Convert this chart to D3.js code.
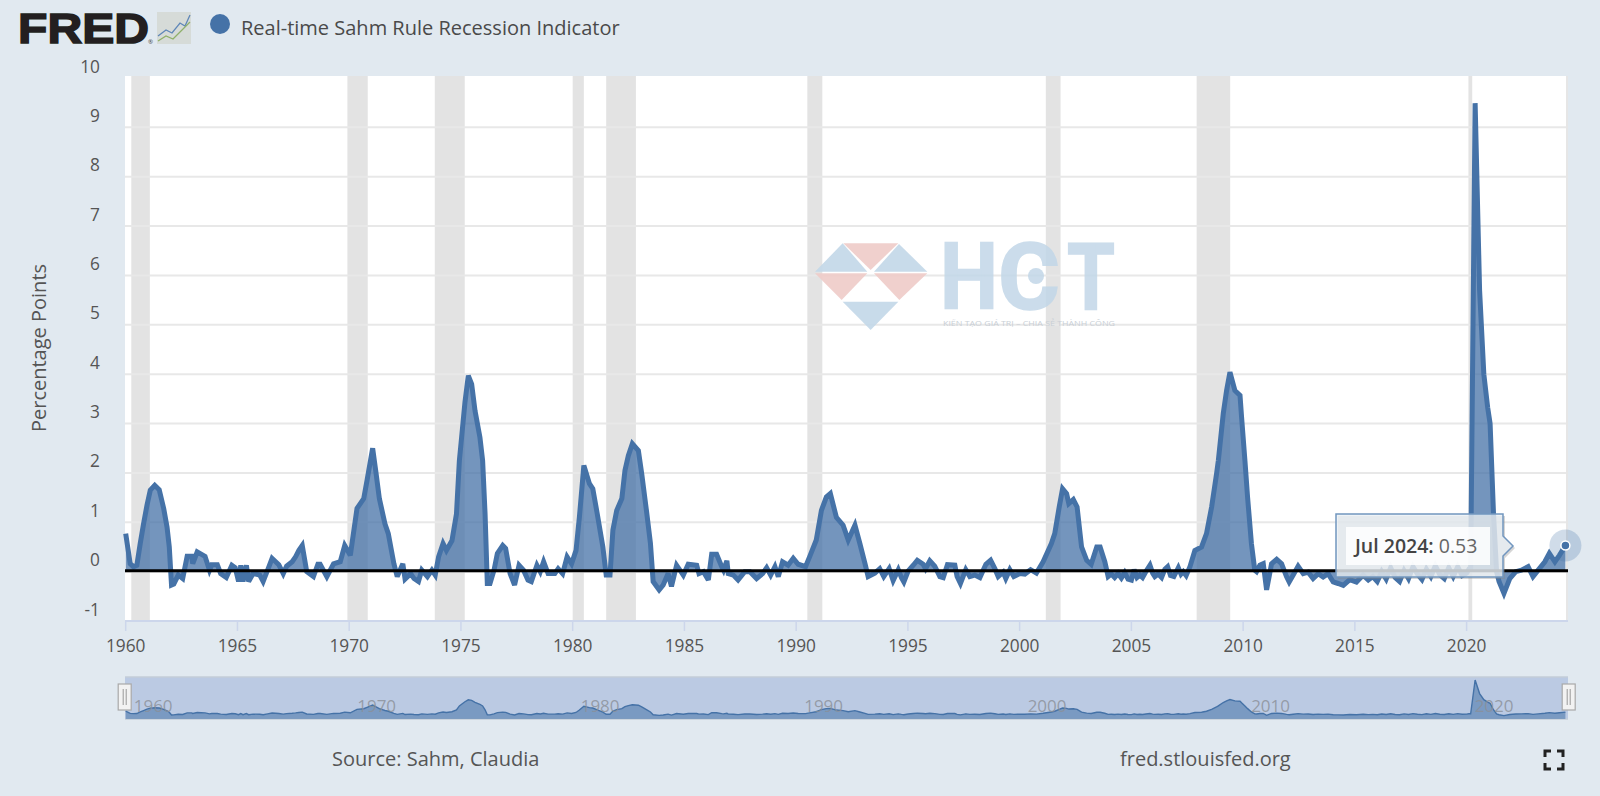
<!DOCTYPE html>
<html><head><meta charset="utf-8">
<script src="https://cdnjs.cloudflare.com/ajax/libs/d3/7.8.5/d3.min.js"></script>
<style>
html,body{margin:0;padding:0;background:#e1e9f0;overflow:hidden}
svg{display:block}
text{font-family:"Open Sans",sans-serif}
</style></head><body>
<svg id="c" width="1600" height="796"></svg>
<script>
const seriesName="Real-time Sahm Rule Recession Indicator";
const yTitle="Percentage Points";
const yTicks=[-1,0,1,2,3,4,5,6,7,8,9,10];
const xTicks=[1960,1965,1970,1975,1980,1985,1990,1995,2000,2005,2010,2015,2020];
const navTicks=[1960,1970,1980,1990,2000,2010,2020];
const recessionStarts=[1960.25,1969.92,1973.83,1980.0,1981.5,1990.5,2001.17,2007.92,2020.08];
const recessionEnds=[1961.08,1970.83,1975.17,1980.5,1982.83,1991.17,2001.83,2009.42,2020.25];
const sahmDates=[
1960.00,1960.20,1960.35,1960.50,1960.65,1960.80,1960.95,1961.10,1961.30,1961.50,
1961.70,1961.85,1961.95,1962.05,1962.15,1962.35,1962.55,1962.75,1962.95,1963.00,
1963.20,1963.55,1963.75,1963.85,1964.10,1964.25,1964.50,1964.75,1964.90,1965.05,
1965.15,1965.25,1965.40,1965.50,1965.70,1966.00,1966.15,1966.35,1966.55,1966.85,
1967.05,1967.20,1967.45,1967.60,1967.75,1967.90,1968.10,1968.40,1968.60,1968.70,
1969.00,1969.30,1969.60,1969.80,1970.05,1970.35,1970.65,1970.80,1971.05,1971.20,
1971.35,1971.60,1971.75,1972.00,1972.15,1972.40,1972.50,1972.75,1972.90,1973.10,
1973.25,1973.50,1973.70,1973.85,1974.00,1974.20,1974.35,1974.60,1974.80,1974.93,
1975.03,1975.18,1975.33,1975.48,1975.63,1975.85,1975.97,1976.08,1976.18,1976.30,
1976.48,1976.63,1976.87,1977.00,1977.20,1977.40,1977.60,1977.80,1978.00,1978.15,
1978.40,1978.55,1978.70,1978.90,1979.20,1979.35,1979.55,1979.75,1979.95,1980.15,
1980.30,1980.50,1980.75,1980.90,1981.10,1981.35,1981.50,1981.67,1981.80,1981.97,
1982.20,1982.34,1982.49,1982.67,1982.94,1983.09,1983.30,1983.48,1983.60,1983.87,
1984.05,1984.27,1984.42,1984.65,1984.95,1985.17,1985.55,1985.65,1985.85,1986.07,
1986.22,1986.44,1986.67,1986.75,1986.90,1986.96,1987.19,1987.40,1987.70,1987.93,
1988.23,1988.50,1988.68,1988.86,1989.05,1989.20,1989.39,1989.64,1989.87,1990.09,
1990.42,1990.60,1990.90,1991.13,1991.35,1991.53,1991.80,1992.10,1992.33,1992.63,
1992.85,1993.08,
2001.05,2001.42,2001.57,
2001.77,2001.92,2002.10,2002.20,2002.40,2002.57,2002.77,2003.00,2003.20,2003.45,
2003.60,2003.81,2003.96,
2007.84,2008.14,2008.36,
2008.59,2008.81,2008.89,2009.11,2009.26,2009.41,2009.63,2009.86,2009.93,2010.08,
2010.20,2010.37,2010.52,2010.60,2010.75,2010.90,2011.05,2011.27,2011.50,2011.72,
2020.18,2020.38,2020.58,2020.77,2020.94,
2021.05,2021.20,2021.34,2021.45,2021.67,2021.93,2022.20,2022.45,2022.75,2022.97,
2023.20,2023.50,2023.70,2023.95,2024.15,2024.42];
const sahmValues=[
0.77,0.16,0.10,0.13,0.57,0.97,1.34,1.65,1.75,1.66,
1.28,0.90,0.50,-0.27,-0.25,-0.07,-0.14,0.31,0.31,0.16,
0.40,0.31,0.03,0.14,0.14,-0.04,-0.12,0.13,0.08,-0.20,
0.13,-0.20,0.13,-0.20,-0.04,-0.07,-0.20,0.03,0.27,0.14,
-0.04,0.11,0.20,0.30,0.43,0.53,0.00,-0.10,0.15,0.15,
-0.10,0.16,0.20,0.53,0.33,1.28,1.48,1.85,2.50,2.00,
1.48,0.97,0.77,0.16,-0.10,0.16,-0.15,-0.04,-0.14,-0.20,
0.03,-0.10,0.03,-0.07,0.30,0.57,0.43,0.63,1.17,2.25,
2.72,3.43,3.97,3.80,3.26,2.72,2.25,1.17,-0.24,-0.24,
0.03,0.37,0.53,0.47,-0.04,-0.27,0.13,0.03,-0.17,-0.20,
0.13,0.00,0.20,-0.04,-0.04,0.06,-0.04,0.30,0.16,0.43,
1.10,2.15,1.78,1.68,1.17,0.50,-0.07,-0.07,0.84,1.24,
1.48,2.05,2.35,2.59,2.45,1.98,1.24,0.57,-0.20,-0.37,
-0.27,-0.04,-0.30,0.13,-0.07,0.15,0.13,-0.04,0.00,-0.17,
0.35,0.35,0.10,0.03,0.22,-0.04,-0.07,-0.17,0.00,0.00,
-0.14,-0.04,0.08,-0.07,0.10,-0.10,0.20,0.13,0.27,0.15,
0.10,0.30,0.64,1.24,1.51,1.58,1.10,0.94,0.64,0.94,
0.57,0.16,
0.20,0.57,0.77,
1.31,1.68,1.58,1.38,1.46,1.31,0.50,0.23,0.15,0.50,
0.50,0.20,-0.10,
0.43,0.50,0.77,
1.31,1.98,2.25,3.20,3.67,4.04,3.67,3.57,3.13,2.25,
1.50,0.57,0.03,0.00,0.13,0.16,-0.37,0.16,0.25,0.16,
0.05,9.49,5.70,4.00,3.33,
3.00,1.20,0.00,-0.20,-0.44,-0.14,0.00,0.03,0.10,-0.10,
0.03,0.20,0.37,0.20,0.33,0.53];
const quietDates=[
1993.22,1993.52,1993.74,1993.92,1994.16,1994.34,1994.57,1994.71,1994.82,1995.01,
1995.24,1995.42,1995.68,1995.79,1995.98,1996.20,1996.43,1996.58,1996.77,1997.10,
1997.20,1997.35,1997.59,1997.77,1997.99,1998.22,1998.49,1998.70,1998.89,1999.04,
1999.26,1999.38,1999.56,1999.74,2000.01,2000.23,2000.49,2000.75,
2004.10,2004.25,2004.40,2004.55,2004.70,2004.85,2005.00,2005.12,2005.25,2005.38,
2005.50,2005.65,2005.83,2005.95,2006.05,2006.20,2006.35,2006.50,2006.62,2006.75,
2006.90,2007.10,2007.22,2007.32,2007.45,2007.62,
2011.94,2012.06,2012.24,2012.46,2012.69,2012.91,2013.13,2013.36,2013.58,2013.80,
2014.03,2014.25,2014.48,2014.77,2015.07,2015.37,2015.60,2015.80,2016.00,2016.20,
2016.40,2016.60,2016.80,2017.00,2017.20,2017.40,2017.60,2017.80,2018.00,2018.20,
2018.40,2018.60,2018.80,2019.00,2019.20,2019.40,2019.60,2019.80,2020.00,2020.10];
const quietValues=[
-0.10,-0.03,0.06,-0.10,0.06,-0.18,0.04,-0.12,-0.21,0.01,
0.13,0.23,0.15,0.06,0.22,0.11,-0.10,-0.12,0.14,0.13,
-0.10,-0.24,0.04,-0.10,-0.07,-0.12,0.15,0.23,0.06,-0.10,
-0.01,-0.14,0.04,-0.10,-0.04,-0.05,0.04,-0.03,
-0.05,-0.12,-0.04,-0.13,-0.02,-0.15,-0.17,0.04,-0.12,-0.07,
-0.12,0.00,0.13,-0.03,-0.10,-0.05,-0.12,0.05,0.10,-0.08,
-0.10,0.08,-0.05,0.00,-0.08,0.10,
-0.10,-0.21,-0.07,0.11,-0.04,-0.01,-0.14,-0.04,-0.11,-0.04,
-0.21,-0.24,-0.28,-0.16,-0.21,-0.07,-0.17,-0.10,-0.20,0.00,
-0.15,0.08,-0.12,-0.20,0.02,-0.14,0.10,-0.05,-0.16,0.05,
-0.10,0.12,-0.06,-0.14,0.08,-0.10,0.10,-0.08,-0.03,0.05];
const lastLabel="Jul 2024:";
const lastValue="0.53";

const svg=d3.select("#c");
const lineBlue="#4572a7";
const data=d3.sort(sahmDates.map((d,i)=>({d,v:sahmValues[i]})).concat(quietDates.map((d,i)=>({d,v:quietValues[i]}))),p=>p.d);
const x=d3.scaleLinear().domain([1960,2024.5]).range([125.7,1567.2]);
const y=d3.scaleLinear().domain([-1,10]).range([621,78]);
const plotL=125,plotR=1568,plotT=76,plotB=620.5;
const zeroY=y(0)-1;

// panel
svg.append("rect").attr("x",plotL).attr("y",plotT).attr("width",plotR-plotL).attr("height",plotB-plotT).attr("fill","#fff");
// recessions
svg.append("g").selectAll("rect").data(recessionStarts).join("rect")
 .attr("x",d=>x(d)).attr("width",(d,i)=>x(recessionEnds[i])-x(d))
 .attr("y",plotT).attr("height",plotB-plotT).attr("fill","#e3e3e3");
// grid
svg.append("g").selectAll("line").data(yTicks.filter(t=>t>-1&&t<10)).join("line")
 .attr("x1",plotL).attr("x2",plotR).attr("y1",d=>y(d)).attr("y2",d=>y(d))
 .attr("stroke","#e8e8e8").attr("stroke-width",2);
// right edge
svg.append("line").attr("x1",plotR-1).attr("x2",plotR-1).attr("y1",plotT).attr("y2",plotB).attr("stroke","#e6e6e6").attr("stroke-width",2);

// x axis
svg.append("line").attr("x1",plotL).attr("x2",plotR).attr("y1",621).attr("y2",621).attr("stroke","#ccd6eb").attr("stroke-width",2);
const xg=svg.append("g").selectAll("g").data(xTicks).join("g").attr("transform",d=>`translate(${x(d)},621)`);
xg.append("line").attr("y2",10).attr("stroke","#ccd6eb").attr("stroke-width",1.5);
xg.append("text").attr("y",31).attr("text-anchor","middle").attr("font-size",17.3).attr("fill","#555").text(d=>d);
// y labels
svg.append("g").selectAll("text").data(yTicks).join("text")
 .attr("x",100).attr("y",d=>y(d)-5.5).attr("text-anchor","end").attr("font-size",17.3).attr("fill","#555").text(d=>d);
svg.append("text").attr("transform","translate(46,348) rotate(-90)").attr("text-anchor","middle")
 .attr("font-size",20).attr("fill","#555").text(yTitle);

// series
const area=d3.area().x(d=>x(d.d)).y0(zeroY).y1(d=>y(d.v));
const line=d3.line().x(d=>x(d.d)).y(d=>y(d.v));
svg.append("path").datum(data).attr("d",area).attr("fill",lineBlue).attr("fill-opacity",.75);
svg.append("path").datum(data).attr("d",line).attr("fill","none").attr("stroke",lineBlue).attr("stroke-width",5).attr("stroke-linejoin","miter").attr("stroke-miterlimit",3);
// zero line
svg.append("line").attr("x1",plotL).attr("x2",plotR).attr("y1",zeroY).attr("y2",zeroY).attr("stroke","#000").attr("stroke-width",3);

// watermark
const wm=svg.append("g").attr("transform","translate(780,220) scale(.3333)");
const wmBlue="#c2d7e8",wmRed="#eecbc8";
[[[188,70],[262,155],[105,155],wmBlue],[[190,70],[355,70],[272,150],wmRed],[[357,72],[442,155],[282,155],wmBlue],
 [[105,160],[262,160],[185,240],wmRed],[[282,160],[442,160],[358,240],wmRed],[[188,245],[355,245],[272,330],wmBlue]]
 .forEach(p=>wm.append("polygon").attr("points",p.slice(0,3).map(q=>q.join(",")).join(" ")).attr("fill",p[3]).attr("fill-opacity",.9));
const wmt=svg.append("g").attr("fill","#c2d7e8").attr("stroke","#c2d7e8").attr("stroke-width",1.5).attr("opacity",.85);
[["H",940,58],["C",998,62],["T",1067,48]].forEach(t=>wmt.append("text").attr("x",t[1]).attr("y",309).attr("font-size",92)
 .attr("textLength",t[2]).attr("lengthAdjust","spacingAndGlyphs").style("font-family","Roboto").style("font-weight",700).text(t[0]));
wmt.append("circle").attr("cx",1036).attr("cy",276).attr("r",8).attr("stroke","none");
svg.append("text").attr("x",943).attr("y",326).attr("font-size",8).attr("fill","#c9cfd6").attr("textLength",172).attr("lengthAdjust","spacingAndGlyphs").text("KIẾN TẠO GIÁ TRỊ – CHIA SẺ THÀNH CÔNG");

// marker
const last=data[data.length-1];
svg.append("circle").attr("cx",x(last.d)).attr("cy",y(last.v)).attr("r",16).attr("fill",lineBlue).attr("fill-opacity",.25);
svg.append("circle").attr("cx",x(last.d)).attr("cy",y(last.v)).attr("r",4.5).attr("fill",lineBlue).attr("stroke","#fff").attr("stroke-width",1.5);

// tooltip
const tt=svg.append("g");
const ttPath="M1336,514 H1503 V536 L1513,546 L1503,556 V577 H1336 Z";
tt.append("path").attr("d",ttPath).attr("transform","translate(2,2)").attr("fill","#888").attr("fill-opacity",.35);
tt.append("path").attr("d",ttPath).attr("fill","#e9eff5").attr("fill-opacity",.78).attr("stroke","#7196bf").attr("stroke-width",1.5);
tt.append("rect").attr("x",1346).attr("y",527).attr("width",144).attr("height",38).attr("fill","#fff").attr("fill-opacity",.85);
const tx=tt.append("text").attr("x",1355).attr("y",553).attr("font-size",19.5);
tx.append("tspan").attr("font-weight",600).attr("fill","#444").text(lastLabel);
tx.append("tspan").attr("fill","#666").text(" "+lastValue);

// navigator
const navT=677,navB=719;
const ny=d3.scaleLinear().domain([0,9.49]).range([714,680]);
svg.append("rect").attr("x",125).attr("y",navT).attr("width",1443).attr("height",navB-navT).attr("fill","#bbcae3");
svg.append("line").attr("x1",125).attr("x2",1568).attr("y1",navT).attr("y2",navT).attr("stroke","#c3ccd8").attr("stroke-width",1.5);
svg.append("line").attr("x1",125).attr("x2",1568).attr("y1",navB).attr("y2",navB).attr("stroke","#c3ccd8").attr("stroke-width",1.5);
const narea=d3.area().x(d=>x(d.d)).y0(navB).y1(d=>ny(d.v));
const nline=d3.line().x(d=>x(d.d)).y(d=>ny(d.v));
svg.append("path").datum(data).attr("d",narea).attr("fill",lineBlue).attr("fill-opacity",.55);
svg.append("path").datum(data).attr("d",nline).attr("fill","none").attr("stroke",lineBlue).attr("stroke-width",1.4);
svg.append("g").selectAll("text").data(navTicks).join("text")
 .attr("x",d=>x(d)+8).attr("y",712).attr("font-size",17).attr("fill","#8a8f97").attr("fill-opacity",.8).text(d=>d);
// handles
[x(1960)-1,x(2024.5)+1.5].forEach(h=>{
 const g=svg.append("g").attr("transform",`translate(${h},697)`);
 g.append("rect").attr("x",-6.5).attr("y",-13).attr("width",13).attr("height",26).attr("fill","#f2f2f2").attr("stroke","#a9a9a9").attr("stroke-width",1.2);
 g.append("line").attr("x1",-1.5).attr("x2",-1.5).attr("y1",-8).attr("y2",8).attr("stroke","#999");
 g.append("line").attr("x1",1.5).attr("x2",1.5).attr("y1",-8).attr("y2",8).attr("stroke","#999");
});

// footer
svg.append("text").attr("x",332).attr("y",766).attr("font-size",20).attr("fill","#555").text("Source: Sahm, Claudia");
svg.append("text").attr("x",1120).attr("y",766).attr("font-size",20).attr("fill","#555").text("fred.stlouisfed.org");
// fullscreen icon
svg.append("path").attr("d","M1545,757 V751 H1551 M1557,751 H1563 V757 M1563,763 V769 H1557 M1551,769 H1545 V763")
 .attr("fill","none").attr("stroke","#222").attr("stroke-width",3);

// header
svg.append("text").attr("x",18).attr("y",43).attr("font-size",43).attr("textLength",131).attr("lengthAdjust","spacingAndGlyphs")
 .attr("fill","#231f20").attr("stroke","#231f20").attr("stroke-width",1.5).style("font-family","Liberation Sans").style("font-weight",700).text("FRED");
svg.append("text").attr("x",148).attr("y",44).attr("font-size",6).attr("fill","#444").text("®");
const logo=svg.append("g");
logo.append("rect").attr("x",157).attr("y",12).attr("width",34).attr("height",32).attr("fill","#d6dbd8");
logo.append("path").attr("d","M158,36 L166,30 L172,33 L180,23 L185,26 L190,15").attr("fill","none").attr("stroke","#5f87b8").attr("stroke-width",1.3);
logo.append("path").attr("d","M158,41 L166,36 L173,39 L181,31 L190,22").attr("fill","none").attr("stroke","#8fb06a").attr("stroke-width",1.3);
svg.append("circle").attr("cx",220).attr("cy",24).attr("r",10).attr("fill",lineBlue);
svg.append("text").attr("x",241).attr("y",35).attr("font-size",20).attr("fill","#4a4a4a").text(seriesName);
</script>
</body></html>
